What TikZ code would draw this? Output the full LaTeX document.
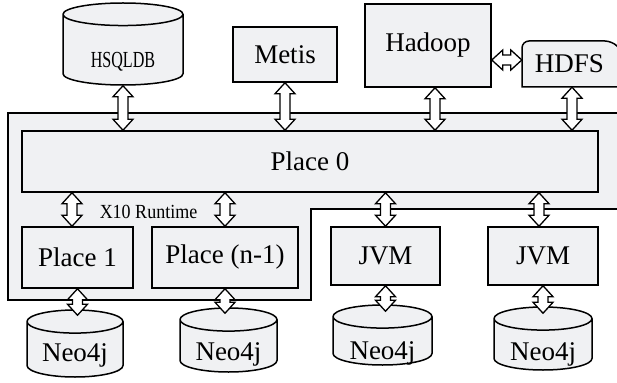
\documentclass[tikz,border=0pt]{standalone}
\usepackage{fontspec}
\setmainfont{Liberation Serif}
\newfontfamily\narrowserif[FakeStretch=0.7]{Liberation Serif}
\newfontfamily\slimserif[FakeStretch=0.9]{Liberation Serif}
\usetikzlibrary{calc,shapes.geometric}

\definecolor{boxgray}{RGB}{240,241,243}
% sink a label inside a cylinder without changing its size
\newcommand{\sunk}[2]{\raisebox{-#1}[\height][\depth]{#2}}

\tikzset{
  box/.style={draw, fill=boxgray, line width=1.5pt, inner sep=0pt, font=\fontsize{27}{30}\selectfont},
  db/.style={box, cylinder, shape border rotate=90, aspect=0.35, anchor=shape center},
  dblarrow/.style={draw, fill=white, line width=1.3pt, line join=miter, to path={
    -- ($(\tikztostart)!11pt!(\tikztotarget)!10pt!90:(\tikztotarget)$)
    -- ($(\tikztostart)!11pt!(\tikztotarget)!5pt!90:(\tikztotarget)$)
    -- ($(\tikztotarget)!11pt!(\tikztostart)!5pt!-90:(\tikztostart)$)
    -- ($(\tikztotarget)!11pt!(\tikztostart)!10pt!-90:(\tikztostart)$)
    -- (\tikztotarget)
    -- ($(\tikztotarget)!11pt!(\tikztostart)!10pt!90:(\tikztostart)$)
    -- ($(\tikztotarget)!11pt!(\tikztostart)!5pt!90:(\tikztostart)$)
    -- ($(\tikztostart)!11pt!(\tikztotarget)!5pt!-90:(\tikztotarget)$)
    -- ($(\tikztostart)!11pt!(\tikztotarget)!10pt!-90:(\tikztotarget)$)
    -- cycle}}
}

\begin{document}
\begin{tikzpicture}[x=1pt, y=-1pt]
    \useasboundingbox (0,0) rectangle (617,382);

    % X10 runtime region
    \draw[fill=boxgray, line width=1.5pt] (8,113) -- (640,113) -- (640,209) -- (311,209) -- (311,300) -- (8,300) -- cycle;
    \node[font=\slimserif\fontsize{20}{22}\selectfont] (runtime) at (148.5,212) {X10 Runtime};

    % top row
    \node[db, minimum width=120pt, minimum height=82pt, font=\narrowserif\fontsize{23}{25}\selectfont] (hsqldb) at (123,44) {\sunk{12pt}{HSQLDB}};
    \node[box, minimum width=104pt, minimum height=55pt] (metis) at (285,54.5) {Metis};
    \node[box, minimum width=126pt, minimum height=83pt] (hadoop) at (428,45.5) {Hadoop};
    \draw[fill=boxgray, line width=1.5pt, rounded corners=7pt] (522,87) -- (522,41) -- (612,41) [sharp corners] -- (627,56) -- (627,87) -- cycle;
    \node[font=\fontsize{27}{30}\selectfont, minimum width=95pt, minimum height=46pt, inner sep=0pt] (hdfs) at (569.5,64) {HDFS};

    % places
    \node[box, minimum width=576pt, minimum height=61pt] (place0) at (310,161.5) {Place 0};
    \node[box, minimum width=111pt, minimum height=61pt] (place1) at (77.5,257.5) {Place 1};
    \node[box, minimum width=146pt, minimum height=61pt] (placen) at (225,257.5) {Place (n-1)};
    \node[box, minimum width=109pt, minimum height=58pt] (jvma) at (385.5,256) {JVM};
    \node[box, minimum width=110pt, minimum height=58pt] (jvmb) at (543,256) {JVM};

    % graph stores
    \node[db, minimum width=96pt, minimum height=67pt] (neoa) at (75,343.5) {\sunk{5.5pt}{Neo4j}};
    \node[db, minimum width=97pt, minimum height=64pt] (neob) at (228.5,340) {\sunk{8.5pt}{Neo4j}};
    \node[db, minimum width=99pt, minimum height=60pt] (neoc) at (382.5,335) {\sunk{12pt}{Neo4j}};
    \node[db, minimum width=98pt, minimum height=63pt] (neod) at (543,338.5) {\sunk{10pt}{Neo4j}};

    % links to place 0
    \coordinate (hadoopout) at ([xshift=7pt]hadoop.south);
    \coordinate (hdfsout) at ([xshift=2.5pt]hdfs.south);
    \coordinate (hdfsin) at ([yshift=4pt]hdfs.west);
    \draw[dblarrow] (hsqldb.south) to (hsqldb.south |- place0.north);
    \draw[dblarrow] (metis.south) to (metis.south |- place0.north);
    \draw[dblarrow] (hadoopout) to (hadoopout |- place0.north);
    \draw[dblarrow] (hdfsout) to (hdfsout |- place0.north);
    \draw[dblarrow] (hadoop.east |- hdfsin) to (hdfsin);

    % place 0 down to places and jvms
    \coordinate (placeain) at ([xshift=-5.5pt]place1.north);
    \coordinate (jvmbin) at ([xshift=-4pt]jvmb.north);
    \draw[dblarrow] (placeain |- place0.south) to (placeain);
    \draw[dblarrow] (placen.north |- place0.south) to (placen.north);
    \draw[dblarrow] (jvma.north |- place0.south) to (jvma.north);
    \draw[dblarrow] (jvmbin |- place0.south) to (jvmbin);

    % down to neo4j
    \draw[dblarrow] (place1.south) to ($(place1.south |- neoa.north)+(0,6)$);
    \draw[dblarrow] (placen.south) to ($(placen.south |- neob.north)+(0,6)$);
    \draw[dblarrow] (jvma.south) to ($(jvma.south |- neoc.north)+(0,7)$);
    \draw[dblarrow] (jvmb.south) to ($(jvmb.south |- neod.north)+(0,7)$);
\end{tikzpicture}
\end{document}
